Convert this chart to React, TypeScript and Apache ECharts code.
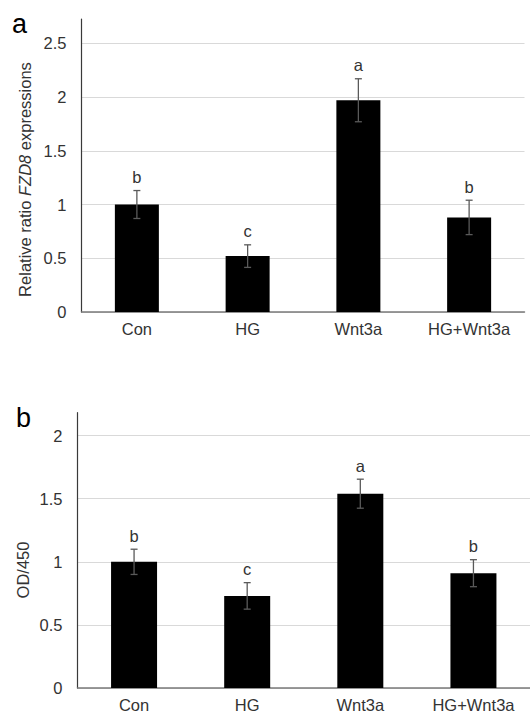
import React, { useEffect, useRef } from "react";
import * as echarts from "echarts";

const categories = ["Con", "HG", "Wnt3a", "HG+Wnt3a"];

// Panel a: relative FZD8 expression
const fzd8Values = [1.0, 0.52, 1.97, 0.88];
const fzd8Errors = [0.13, 0.105, 0.2, 0.16];
const fzd8Letters = ["b", "c", "a", "b"];

// Panel b: OD/450
const odValues = [1.0, 0.73, 1.54, 0.91];
const odErrors = [0.1, 0.105, 0.115, 0.107];
const odLetters = ["b", "c", "a", "b"];

const FONT = "Liberation Sans, Arial, sans-serif";
const TXT = "#333333";

function errSeries(values: number[], errs: number[], letters: string[], idx: number) {
  return {
    type: "custom",
    xAxisIndex: idx,
    yAxisIndex: idx,
    z: 10,
    itemStyle: { color: TXT },
    data: values.map((v, i) => [i, v, errs[i]]),
    encode: { x: 0, y: 1 },
    renderItem: (params: any, api: any) => {
      const x = api.value(0);
      const v = api.value(1);
      const e = api.value(2);
      const top = api.coord([x, v + e]);
      const bot = api.coord([x, v - e]);
      const half = 3.5;
      const st = { stroke: "#5a5a5a", lineWidth: 1.3 };
      return {
        type: "group",
        children: [
          { type: "line", shape: { x1: top[0], y1: top[1], x2: bot[0], y2: bot[1] }, style: st },
          { type: "line", shape: { x1: top[0] - half, y1: top[1], x2: top[0] + half, y2: top[1] }, style: st },
          { type: "line", shape: { x1: bot[0] - half, y1: bot[1], x2: bot[0] + half, y2: bot[1] }, style: st },
          {
            type: "text",
            x: top[0],
            y: top[1] - 5,
            style: {
              text: letters[params.dataIndex],
              align: "center",
              verticalAlign: "bottom",
              fontSize: 16.5,
              fontFamily: FONT,
              fill: TXT,
            },
          },
        ],
      };
    },
  };
}

export default function App() {
  const ref = useRef<HTMLDivElement>(null);
  useEffect(() => {
    if (!ref.current) return;
    const chart = echarts.init(ref.current, undefined, { renderer: "svg" });
    const yAxisCommon = (max: number) => ({
      type: "value",
      min: 0,
      max,
      interval: 0.5,
      axisLine: { show: true, lineStyle: { color: "#3a3a3a", width: 1.2 } },
      axisTick: { show: false },
      axisLabel: {
        showMaxLabel: false,
        margin: 15,
        fontSize: 16.5,
        fontFamily: FONT,
        color: TXT,
        formatter: (v: number) => String(v),
      },
      splitLine: { show: true, showMaxLine: false, lineStyle: { color: "#d9d9d9", width: 1 } },
    });
    const xAxisCommon = (idx: number) => ({
      type: "category",
      gridIndex: idx,
      data: categories,
      axisLine: { show: true, lineStyle: { color: "#7a7a7a", width: 1.5 } },
      axisTick: { show: false },
      axisLabel: { margin: 8, fontSize: 16.5, fontFamily: FONT, color: TXT },
    });
    chart.setOption({
      animation: false,
      backgroundColor: "#ffffff",
      grid: [
        { left: 81.5, top: 19, width: 443, height: 293 },
        { left: 77.5, top: 412.7, width: 458, height: 279.6 },
      ],
      xAxis: [xAxisCommon(0), xAxisCommon(1)],
      yAxis: [
        { ...yAxisCommon(2.726), gridIndex: 0 },
        { ...yAxisCommon(2.182), gridIndex: 1 },
      ],
      series: [
        {
          type: "bar",
          xAxisIndex: 0,
          yAxisIndex: 0,
          data: fzd8Values,
          barWidth: 44,
          itemStyle: { color: "#000000" },
        },
        errSeries(fzd8Values, fzd8Errors, fzd8Letters, 0),
        {
          type: "bar",
          xAxisIndex: 1,
          yAxisIndex: 1,
          data: odValues,
          barWidth: 46,
          itemStyle: { color: "#000000" },
        },
        errSeries(odValues, odErrors, odLetters, 1),
      ],
      graphic: [
        {
          type: "text",
          x: 12,
          y: 24,
          style: { text: "a", fontSize: 27, fontFamily: FONT, fill: "#000", verticalAlign: "middle" },
        },
        {
          type: "text",
          x: 16,
          y: 417.5,
          style: { text: "b", fontSize: 27, fontFamily: FONT, fill: "#000", verticalAlign: "middle" },
        },
        {
          type: "text",
          x: 25,
          y: 179.5,
          rotation: Math.PI / 2,
          style: {
            text: "Relative ratio {i|FZD8} expressions",
            fontSize: 16.5,
            fontFamily: FONT,
            fill: TXT,
            align: "center",
            verticalAlign: "middle",
            rich: {
              i: { fontStyle: "italic", fontSize: 16.5, fontFamily: FONT, fill: TXT },
            },
          },
        },
        {
          type: "text",
          x: 22.5,
          y: 570,
          rotation: Math.PI / 2,
          style: {
            text: "OD/450",
            fontSize: 16.5,
            fontFamily: FONT,
            fill: TXT,
            align: "center",
            verticalAlign: "middle",
          },
        },
      ],
    });
    return () => chart.dispose();
  }, []);
  return (
    <div
      ref={ref}
      style={{ position: "fixed", left: 0, top: 0, width: 530, height: 713 }}
    />
  );
}
